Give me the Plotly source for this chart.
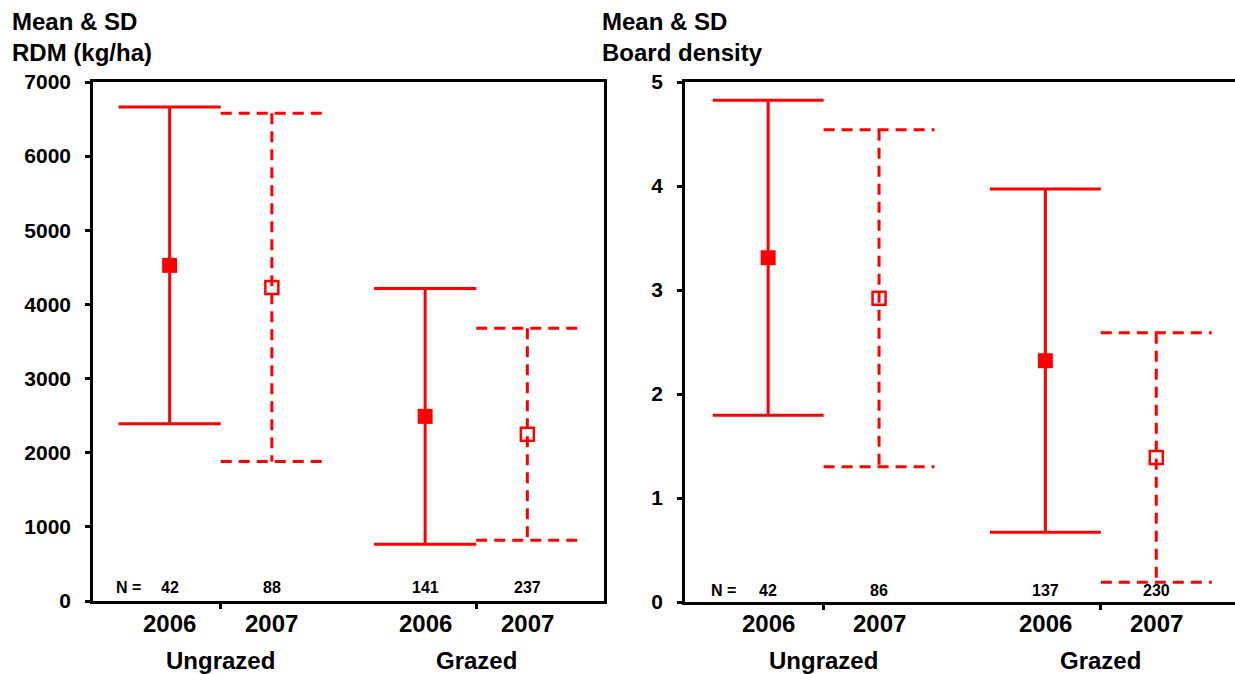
import plotly.graph_objects as go

# ---------------- data ----------------
years = ["2006", "2007", "2006", "2007"]
groups = ["Ungrazed", "Grazed"]

rdm_mean = [4527, 4230, 2490, 2250]
rdm_sd = [2135, 2350, 1725, 1430]
rdm_n = [42, 88, 141, 237]
rdm_ticks = [0, 1000, 2000, 3000, 4000, 5000, 6000, 7000]

bd_mean = [3.31, 2.92, 2.32, 1.39]
bd_sd = [1.515, 1.62, 1.65, 1.20]
bd_n = [42, 86, 137, 230]
bd_ticks = [0, 1, 2, 3, 4, 5]

# ---------------- layout constants ----------------
W, H = 1235, 674
POS = [0, 1, 2.5, 3.5]          # category positions on numeric x axis
GROUP_POS = [0.5, 3.0]          # group label / separator positions
CAP = 0.5                       # cap half width in axis units
RED = "#ff0000"
FONT = "Liberation Sans"
DASH = "11px,7px"

def px(x):
    return x / W

def py(y):
    return 1 - y / H

fig = go.Figure()

panels = [
    dict(mean=rdm_mean, sd=rdm_sd, n=rdm_n, xa="x", ya="y", nlab_y=587),
    dict(mean=bd_mean, sd=bd_sd, n=bd_n, xa="x2", ya="y2", nlab_y=590),
]

for pnl in panels:
    for i, (m, s) in enumerate(zip(pnl["mean"], pnl["sd"])):
        p = POS[i]
        dashed = years[i] == "2007"
        fig.add_trace(go.Scatter(
            x=[p - CAP, p + CAP, None, p, p, None, p - CAP, p + CAP],
            y=[m + s, m + s, None, m + s, m - s, None, m - s, m - s],
            mode="lines",
            line=dict(color=RED, width=3, dash=DASH if dashed else "solid"),
            xaxis=pnl["xa"], yaxis=pnl["ya"], showlegend=False, hoverinfo="skip",
        ))
        fig.add_trace(go.Scatter(
            x=[p], y=[m], mode="markers",
            marker=dict(symbol="square-open" if dashed else "square",
                        size=13 if dashed else 15, color=RED,
                        line=dict(color=RED, width=2.5 if dashed else 0)),
            xaxis=pnl["xa"], yaxis=pnl["ya"], showlegend=False,
        ))

axis_common = dict(showline=True, linecolor="black", linewidth=2.5,
                   showgrid=False, zeroline=False, ticks="outside",
                   tickcolor="black", tickwidth=2.5, ticklen=5,
                   automargin=False)

fig.update_layout(
    width=W, height=H,
    margin=dict(l=0, r=0, t=0, b=0, pad=0),
    plot_bgcolor="white", paper_bgcolor="white",
    font=dict(family=FONT, size=20, color="black", weight="bold"),
    xaxis=dict(domain=[px(93), px(604)], range=[-0.75, 4.25],
               tickvals=GROUP_POS, ticktext=["", ""], mirror=True,
               anchor="y", **axis_common),
    yaxis=dict(domain=[py(601), py(82)], range=[0, 7000],
               tickvals=rdm_ticks, mirror=True, anchor="x",
               tickfont=dict(size=21, family=FONT, weight="bold"),
               ticklabelstandoff=10, **axis_common),
    xaxis2=dict(domain=[px(685), 1.0], range=[-0.75, 4.21],
                tickvals=GROUP_POS, ticktext=["", ""], mirror=True,
                anchor="y2", **axis_common),
    yaxis2=dict(domain=[py(602), py(82)], range=[0, 5],
                tickvals=bd_ticks, mirror=False, anchor="x2",
                tickfont=dict(size=21, family=FONT, weight="bold"),
                ticklabelstandoff=10, **axis_common),
)

annotations = []
titles = [("Mean & SD<br>RDM (kg/ha)", 10), ("Mean & SD<br>Board density", 600)]
for txt, x0 in titles:
    annotations.append(dict(text=txt, xref="paper", yref="paper",
                            x=px(x0), y=py(6), xanchor="left", yanchor="top",
                            align="left", showarrow=False,
                            font=dict(size=24, family=FONT, weight="bold")))

for pnl in panels:
    xr = pnl["xa"]
    yl = py(pnl["nlab_y"])
    annotations.append(dict(text="N =", xref=xr, yref="paper", x=-0.4, y=yl,
                            xanchor="center", yanchor="middle",
                            showarrow=False, font=dict(size=16, weight="bold")))
    for i, nv in enumerate(pnl["n"]):
        annotations.append(dict(text=str(nv), xref=xr, yref="paper", x=POS[i], y=yl,
                                xanchor="center", yanchor="middle",
                                showarrow=False, font=dict(size=16, weight="bold")))
    for i, yr in enumerate(years):
        annotations.append(dict(text=yr, xref=xr, yref="paper", x=POS[i], y=py(623),
                                xanchor="center", yanchor="middle",
                                showarrow=False, font=dict(size=24, weight="bold")))
    for g, gp in zip(groups, GROUP_POS):
        annotations.append(dict(text=g, xref=xr, yref="paper", x=gp, y=py(660),
                                xanchor="center", yanchor="middle",
                                showarrow=False, font=dict(size=24, weight="bold")))

fig.update_layout(annotations=annotations)
fig.write_html("out.html", config={"displayModeBar": False},
               post_script="document.body.style.margin='0';document.body.style.overflow='hidden';")
